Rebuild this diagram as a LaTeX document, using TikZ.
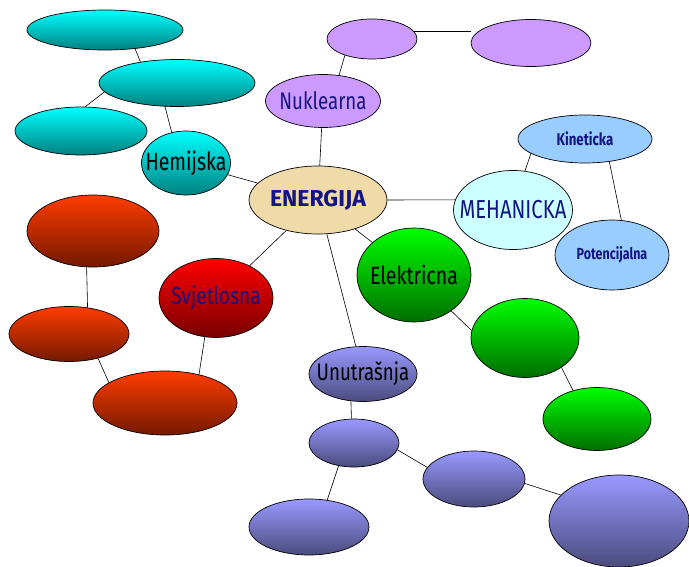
\documentclass[tikz,border=0pt]{standalone}
\usepackage{fontspec}
\usepackage{tikz}
\usetikzlibrary{shapes.geometric}
\newfontfamily\mapfont{Fira Sans}[FakeStretch=0.78]
\newfontfamily\capsfont{Fira Sans}
\definecolor{navy}{HTML}{141482}
\definecolor{papyrus}{HTML}{EFDAA8}
\definecolor{lilac}{HTML}{CC99FF}
\definecolor{skyblue}{HTML}{99CCFF}
\definecolor{icecyan}{HTML}{CCFFFF}

\begin{document}
\begin{tikzpicture}[x=1pt,y=-1pt,
  blob/.style={ellipse,draw=black,line width=0.7pt,inner sep=0pt},
  cyanblob/.style={blob,top color=cyan,bottom color={rgb,255:red,0;green,128;blue,128}},
  redblob/.style={blob,top color={rgb,255:red,255;green,0;blue,0},bottom color={rgb,255:red,120;green,0;blue,0}},
  orangeblob/.style={blob,top color={rgb,255:red,255;green,60;blue,0},bottom color={rgb,255:red,115;green,25;blue,0}},
  greenblob/.style={blob,top color={rgb,255:red,0;green,255;blue,0},bottom color={rgb,255:red,0;green,110;blue,0}},
  violetblob/.style={blob,top color={rgb,255:red,153;green,153;blue,255},bottom color={rgb,255:red,75;green,75;blue,125}},
  txt/.style={inner sep=0pt,font=\mapfont},
  link/.style={line width=0.6pt}]
\useasboundingbox (0,0) rectangle (689,567);
% hemijska grana
\node[cyanblob,minimum width=156,minimum height=40] (cyanA) at (105,30) {};
\node[cyanblob,minimum width=156,minimum height=47] (cyanB) at (177,83) {};
\node[cyanblob,minimum width=132,minimum height=48] (cyanC) at (81,131) {};
\node[cyanblob,minimum width=89,minimum height=64,
  label={[txt]center:\fontsize{25}{29}\selectfont Hemijska}] (hem) at (186,163) {};
% centar
\node[blob,fill=papyrus,minimum width=138,minimum height=68,
  label={[txt,font=\capsfont]center:\fontsize{23}{27}\selectfont\bfseries\color{navy}ENERGIJA}] (en) at (318,200) {};
% nuklearna grana
\node[blob,fill=lilac,minimum width=115,minimum height=53,
  label={[txt]center:\fontsize{24}{28}\selectfont\color{navy}Nuklearna}] (nuk) at (323,101) {};
\node[blob,fill=lilac,minimum width=90,minimum height=40] (nukA) at (372,39) {};
\node[blob,fill=lilac,minimum width=120,minimum height=47] (nukB) at (531,43) {};
% mehanicka grana
\node[blob,fill=icecyan,minimum width=119,minimum height=79,
  label={[txt]center:\fontsize{26}{30}\selectfont\color{navy}MEHANICKA}] (meh) at (513,210) {};
\node[blob,fill=skyblue,minimum width=134,minimum height=48,
  label={[txt]center:\fontsize{17}{20}\selectfont\bfseries\color{navy}Kineticka}] (kin) at (585,139) {};
\node[blob,fill=skyblue,minimum width=114,minimum height=70,
  label={[txt]center:\fontsize{16}{19}\selectfont\bfseries\color{navy}Potencijalna}] (pot) at (612,255) {};
% elektricna grana
\node[greenblob,minimum width=114,minimum height=94,
  label={[txt]center:\fontsize{25}{29}\selectfont Elektricna}] (el) at (414,275) {};
\node[greenblob,minimum width=108,minimum height=79] (elA) at (525,338) {};
\node[greenblob,minimum width=108,minimum height=63] (elB) at (597,419) {};
% svjetlosna grana
\node[redblob,minimum width=114,minimum height=79,
  label={[txt]center:\fontsize{24.5}{28}\selectfont\color{navy}Svjetlosna}] (svj) at (216,298) {};
\node[orangeblob,minimum width=132,minimum height=72] (redA) at (93,231) {};
\node[orangeblob,minimum width=120,minimum height=55] (redB) at (69,334) {};
\node[orangeblob,minimum width=144,minimum height=64] (redC) at (165,403) {};
% unutrasnja grana
\node[violetblob,minimum width=108,minimum height=55,
  label={[txt]center:\fontsize{24}{28}\selectfont Unutrašnja}] (un) at (363,374) {};
\node[violetblob,minimum width=90,minimum height=48] (unA) at (354,443) {};
\node[violetblob,minimum width=102,minimum height=56] (unB) at (474,479) {};
\node[violetblob,minimum width=120,minimum height=56] (unC) at (309,527) {};
\node[violetblob,minimum width=140,minimum height=92] (unD) at (619,521) {};
% veze
\draw[link] (cyanA.328) -- (cyanB.150);
\draw[link] (cyanB.187) -- (cyanC.80);
\draw[link] (cyanB.243) -- (hem.115);
\draw[link] (hem) -- (en);
\draw[link] (en) -- (nuk);
\draw[link] (nuk.58) -- (nukA.211);
\draw[link] (nukA.10) -- (nukA.10 -| nukB.west);
\draw[link] (en.east) -- (meh.170);
\draw[link] (meh.73) -- (kin.195);
\draw[link] (kin.-43) -- (pot.75);
\draw[link] (en) -- (el);
\draw[link] (el.-44) -- (elA.172);
\draw[link] (elA.-39) -- (elB.130);
\draw[link] (en) -- (svj);
\draw[link] (svj.254) -- (redC.40);
\draw[link] (redA.260) -- (redB.55);
\draw[link] (redB.-40) -- (redC.160);
\draw[link] (en) -- (un);
\draw[link] (un.246) -- (unA.96);
\draw[link] (unA.-9) -- (unB.166);
\draw[link] (unA.236) -- (unC.56);
\draw[link] (unB.-5) -- (unD.156);
\end{tikzpicture}
\end{document}
